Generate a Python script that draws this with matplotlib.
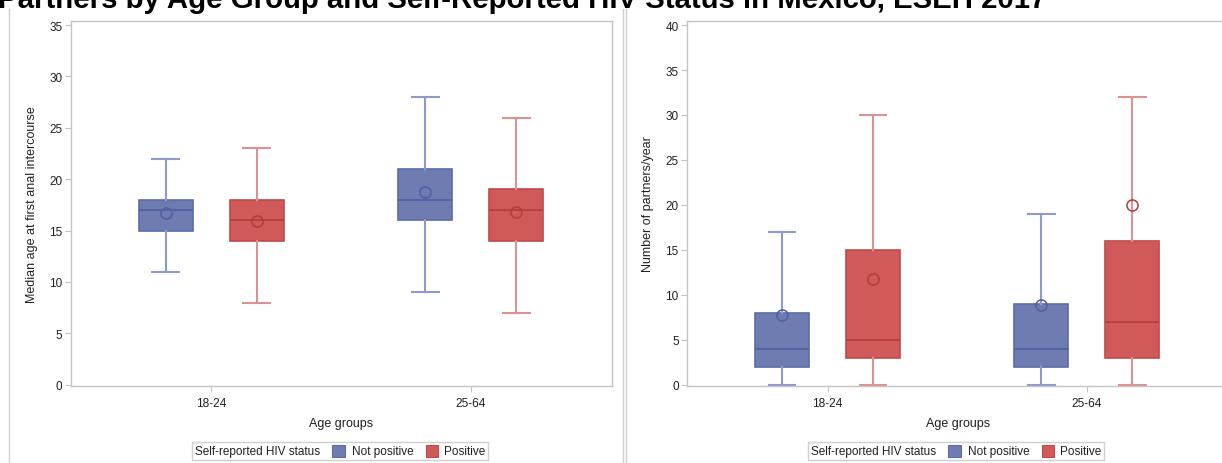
import matplotlib
matplotlib.use("Agg")
import matplotlib.pyplot as plt
from matplotlib.lines import Line2D
from matplotlib.patches import Rectangle
from matplotlib.offsetbox import TextArea, DrawingArea, HPacker, AnchoredOffsetbox

plt.rcParams['font.family'] = ['Liberation Sans', 'DejaVu Sans']

# datos
groups = ["18-24", "25-64"]
statuses = ["Not positive", "Positive"]

# edad mediana a la primera relacion anal
age_np_low = [11, 9]
age_np_q1 = [15, 16]
age_np_med = [17, 18]
age_np_q3 = [18, 21]
age_np_high = [22, 28]
age_np_mean = [16.7, 18.8]

age_pos_low = [8, 7]
age_pos_q1 = [14, 14]
age_pos_med = [16, 17]
age_pos_q3 = [18, 19]
age_pos_high = [23, 26]
age_pos_mean = [15.9, 16.8]

# numero de parejas por anio
part_np_low = [0, 0]
part_np_q1 = [2, 2]
part_np_med = [4, 4]
part_np_q3 = [8, 9]
part_np_high = [17, 19]
part_np_mean = [7.7, 8.9]

part_pos_low = [0, 0]
part_pos_q1 = [3, 3]
part_pos_med = [5, 7]
part_pos_q3 = [15, 16]
part_pos_high = [30, 32]
part_pos_mean = [11.8, 20.0]

fill = {"Not positive": "#6e7cb2", "Positive": "#d05a5a"}
edge = {"Not positive": "#5d6ca8", "Positive": "#c04a4a"}
dark = {"Not positive": "#4f5f9f", "Positive": "#b03c3c"}
light = {"Not positive": "#8d9acb", "Positive": "#d99393"}
grey = "#c4c4c4"


def stats(low, q1, med, q3, high, mean):
    return [dict(whislo=low[i], q1=q1[i], med=med[i], q3=q3[i], whishi=high[i],
                 mean=mean[i], fliers=[]) for i in range(len(groups))]


def draw_panel(ax, series, ylim, yticks, ylabel):
    offs = [-0.1754, 0.1754]
    for (status, st), off in zip(series, offs):
        pos = [i + off for i in range(len(groups))]
        ax.bxp(st, positions=pos, widths=0.208, patch_artist=True, showmeans=True,
               showfliers=False, manage_ticks=False,
               boxprops=dict(facecolor=fill[status], edgecolor=edge[status], linewidth=1.2),
               medianprops=dict(color=dark[status], linewidth=1.2),
               whiskerprops=dict(color=light[status], linewidth=1.5),
               capprops=dict(color=light[status], linewidth=1.5),
               capwidths=0.103,
               meanprops=dict(marker="o", markerfacecolor="none",
                              markeredgecolor=dark[status], markersize=8,
                              markeredgewidth=1.1))
    ax.set_xlim(-0.542, 1.546)
    ax.set_ylim(*ylim)
    ax.set_yticks(yticks)
    ax.set_xticks(range(len(groups)))
    ax.set_xticklabels(groups)
    for s in ax.spines.values():
        s.set_color(grey)
        s.set_linewidth(1.0)
    ax.tick_params(axis="both", direction="out", length=4, width=0.8, color=grey,
                   labelsize=8.5, labelcolor="#202020", pad=2)
    ax.tick_params(axis="x", pad=4, labelsize=8.6)
    ax.set_xlabel("Age groups", fontsize=9, labelpad=6, color="#202020")
    ax.set_ylabel(ylabel, fontsize=9, labelpad=8, color="#202020")
    ax.set_facecolor("white")


fig = plt.figure(figsize=(12.22, 4.64), dpi=100)
ax1 = fig.add_axes([0.0579, 0.1659, 0.4432, 0.7866])
ax2 = fig.add_axes([0.5622, 0.1659, 0.4430, 0.7866])

draw_panel(ax1, [("Not positive", stats(age_np_low, age_np_q1, age_np_med, age_np_q3, age_np_high, age_np_mean)),
                 ("Positive", stats(age_pos_low, age_pos_q1, age_pos_med, age_pos_q3, age_pos_high, age_pos_mean))],
           (-0.126, 35.39), range(0, 36, 5), "Median age at first anal intercourse")
draw_panel(ax2, [("Not positive", stats(part_np_low, part_np_q1, part_np_med, part_np_q3, part_np_high, part_np_mean)),
                 ("Positive", stats(part_pos_low, part_pos_q1, part_pos_med, part_pos_q3, part_pos_high, part_pos_mean))],
           (-0.145, 40.445), range(0, 41, 5), "Number of partners/year")


# leyenda tipo SAS
def make_legend(cx):
    tp = dict(fontsize=8.5, color="#202020")
    items = [TextArea("Self-reported HIV status", textprops=tp)]
    gaps = [(9, 5), (9, 4)]
    for status, (g1, g2) in zip(statuses, gaps):
        items.append(DrawingArea(g1, 8))
        da = DrawingArea(9, 9)
        da.add_artist(Rectangle((0, 0), 9, 9, facecolor=fill[status], edgecolor=edge[status], lw=0.8))
        items.append(da)
        items.append(DrawingArea(g2, 8))
        items.append(TextArea(status, textprops=tp))
    box = HPacker(children=items, align="center", pad=0, sep=0)
    anc = AnchoredOffsetbox(loc="center", child=box, pad=0.2, borderpad=0, frameon=True,
                            bbox_to_anchor=(cx, 1 - 452 / 464), bbox_transform=fig.transFigure)
    anc.patch.set_edgecolor("#cfcfcf")
    anc.patch.set_linewidth(1.0)
    fig.add_artist(anc)


make_legend(340 / 1222)
make_legend(956 / 1222)

# bordes de los paneles
for xp in [9.3, 623.3, 625.7]:
    fig.add_artist(Line2D([xp / 1222, xp / 1222], [0, 1 - 10 / 464], color="#d0d0d0", lw=1.0))

fig.text(-2 / 1222, 1 - 8 / 464, "Partners by Age Group and Self-Reported HIV Status in Mexico, ESEH 2017",
         fontsize=21.2, fontweight="bold", ha="left", va="baseline", color="black")

fig.savefig("out.png", dpi=100)
